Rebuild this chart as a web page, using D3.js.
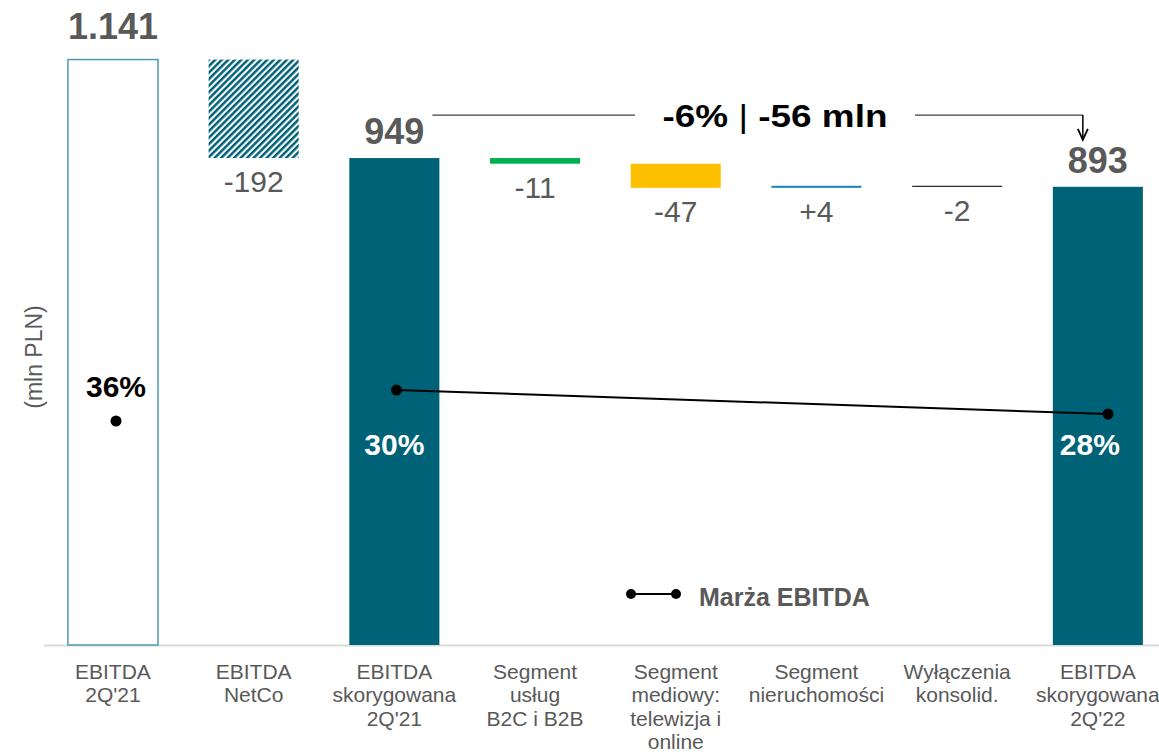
<!DOCTYPE html>
<html>
<head>
<meta charset="utf-8">
<script src="https://cdn.jsdelivr.net/npm/d3@7"></script>
<style>
  body { margin: 0; background: #fff; }
  svg { display: block; font-family: "Liberation Sans", Arial, sans-serif; }
  .cat-label { fill: #595959; font-size: 21px; }
  .total-label { fill: #595959; font-size: 36px; font-weight: bold; }
  .delta-label { fill: #595959; font-size: 30px; }
  .margin-label { font-size: 30px; font-weight: bold; }
</style>
</head>
<body>
<svg id="chart" width="1159" height="752"></svg>
<script>
// categories (one entry per line of the axis label)
const categories = [
  ['EBITDA', "2Q'21"],
  ['EBITDA', 'NetCo'],
  ['EBITDA', 'skorygowana', "2Q'21"],
  ['Segment', 'usług', 'B2C i B2B'],
  ['Segment', 'mediowy:', 'telewizja i', 'online'],
  ['Segment', 'nieruchomości'],
  ['Wyłączenia', 'konsolid.'],
  ['EBITDA', 'skorygowana', "2Q'22"]
];
// mln PLN
const values = [1141, -192, 949, -11, -47, 4, -2, 893];
const isTotal = [true, false, true, false, false, false, false, true];

// EBITDA margin (%)
const marginReported = [{idx: 0, value: 36}];
const marginAdjusted = [{idx: 2, value: 30}, {idx: 7, value: 28}];

const changeText = ['-6%', '|', '-56 mln'];
const legendText = 'Marża EBITDA';
const yAxisTitle = '(mln PLN)';

const svg = d3.select('#chart');
const teal = '#006277';
const fills = ['#ffffff', 'url(#hatch)', teal, '#00B050', '#FFC000', '#1E81C2', '#000000', teal];

const pl = d3.formatLocale({decimal: ',', thousands: '.', grouping: [3], currency: ['', ' zł']});
const fmtTotal = pl.format(',d');
const fmtDelta = v => (v > 0 ? '+' : '') + v;

// hatch pattern for NetCo
const defs = svg.append('defs');
const pat = defs.append('pattern')
  .attr('id', 'hatch')
  .attr('patternUnits', 'userSpaceOnUse')
  .attr('width', 4.6).attr('height', 4.6)
  .attr('patternTransform', 'rotate(45)');
pat.append('rect').attr('width', 4.6).attr('height', 4.6).attr('fill', '#fff');
pat.append('rect').attr('width', 2.5).attr('height', 4.6).attr('fill', teal);

// waterfall steps
let running = 0;
const steps = values.map((v, i) => {
  let start, end;
  if (isTotal[i]) { start = 0; end = v; running = v; }
  else { start = running; end = running + v; running = end; }
  return {i, v, start, end, total: isTotal[i]};
});

const x = d3.scaleBand()
  .domain(d3.range(categories.length))
  .range([42.6, 1168.2])
  .paddingInner(0.36)
  .paddingOuter(0.18);

const y = d3.scaleLinear()
  .domain([0, 1200])
  .range([645, 645 - 1200 * 0.5131]);

// secondary axes for the margin series
const x2 = d3.scalePoint()
  .domain(d3.range(categories.length))
  .range([112, 1108]);
const y2 = d3.scaleLinear().domain([20, 40]).range([510, 270]);
const y2rep = d3.scaleLinear().domain([20, 40]).range([613, 373]);

// baseline
svg.append('line')
  .attr('x1', 44).attr('x2', 1159)
  .attr('y1', y(0) + 0.5).attr('y2', y(0) + 0.5)
  .attr('stroke', '#D9D9D9').attr('stroke-width', 2);

// bars
const bars = svg.append('g').attr('class', 'bars');
bars.selectAll('rect').data(steps).enter().append('rect')
  .attr('x', d => x(d.i))
  .attr('width', x.bandwidth())
  .attr('y', d => y(Math.max(d.start, d.end)))
  .attr('height', d => Math.max(1, Math.abs(y(d.start) - y(d.end))))
  .attr('fill', d => fills[d.i])
  .attr('stroke', d => d.i === 0 ? '#4E9BB0' : 'none')
  .attr('stroke-width', 1.5);

// value labels
svg.append('g').selectAll('text').data(steps).enter().append('text')
  .attr('class', d => d.total ? 'total-label' : 'delta-label')
  .attr('text-anchor', 'middle')
  .attr('x', d => x(d.i) + x.bandwidth() / 2)
  .attr('y', d => d.total
    ? y(d.end) - (d.i === 0 ? 21 : 14)
    : y(Math.min(d.start, d.end)) + 34)
  .text(d => d.total ? fmtTotal(d.v) : fmtDelta(d.v));

// category labels
const catG = svg.append('g');
categories.forEach((lines, i) => {
  const t = catG.append('text')
    .attr('class', 'cat-label')
    .attr('text-anchor', 'middle')
    .attr('x', x(i) + x.bandwidth() / 2)
    .attr('y', 679);
  lines.forEach((ln, k) => {
    t.append('tspan')
      .attr('x', x(i) + x.bandwidth() / 2)
      .attr('dy', k === 0 ? 0 : 23.3)
      .text(ln);
  });
});

// y axis title
svg.append('text')
  .attr('transform', 'translate(42,357) rotate(-90)')
  .attr('text-anchor', 'middle')
  .attr('fill', '#595959')
  .attr('font-size', 23)
  .text(yAxisTitle);

// change annotation
const annY = y(949) - 43;
const arrowX = x(7) + x.bandwidth() / 2 - 15;
svg.append('line')
  .attr('x1', x(2) + x.bandwidth() - 7).attr('x2', 635)
  .attr('y1', annY).attr('y2', annY)
  .attr('stroke', '#404040').attr('stroke-width', 1.2);
svg.append('line')
  .attr('x1', 915).attr('x2', arrowX)
  .attr('y1', annY).attr('y2', annY)
  .attr('stroke', '#404040').attr('stroke-width', 1.2);
svg.append('line')
  .attr('x1', arrowX).attr('x2', arrowX)
  .attr('y1', annY).attr('y2', y(893) - 48)
  .attr('stroke', '#000').attr('stroke-width', 1.5);
svg.append('path')
  .attr('d', `M${arrowX - 5},${y(893) - 58} L${arrowX},${y(893) - 47} L${arrowX + 5},${y(893) - 58}`)
  .attr('fill', 'none').attr('stroke', '#000').attr('stroke-width', 1.8);

const ann = svg.append('text')
  .attr('x', 775).attr('y', annY + 12)
  .attr('text-anchor', 'middle')
  .attr('font-size', 31)
  .attr('fill', '#000');
ann.append('tspan').attr('font-weight', 'bold').text(changeText[0] + ' ');
ann.append('tspan').attr('font-weight', 'normal').text(changeText[1]);
ann.append('tspan').attr('font-weight', 'bold').text(' ' + changeText[2]);
ann.attr('textLength', 225).attr('lengthAdjust', 'spacingAndGlyphs');

// margin line
const line = d3.line()
  .x(d => x2(d.idx))
  .y(d => y2(d.value));
svg.append('path')
  .datum(marginAdjusted)
  .attr('d', line)
  .attr('fill', 'none')
  .attr('stroke', '#000')
  .attr('stroke-width', 2);
svg.append('g').selectAll('circle').data(marginAdjusted).enter().append('circle')
  .attr('cx', d => x2(d.idx)).attr('cy', d => y2(d.value)).attr('r', 5.5)
  .attr('fill', '#000');
svg.append('g').selectAll('text').data(marginAdjusted).enter().append('text')
  .attr('class', 'margin-label')
  .attr('fill', '#fff')
  .attr('text-anchor', 'middle')
  .attr('x', d => x(d.idx) + x.bandwidth() / 2 - (d.idx === 7 ? 8 : 0))
  .attr('y', 455)
  .text(d => d.value + '%');

svg.append('g').selectAll('circle').data(marginReported).enter().append('circle')
  .attr('cx', d => x2(d.idx) + 4).attr('cy', d => y2rep(d.value)).attr('r', 5.5)
  .attr('fill', '#000');
svg.append('g').selectAll('text').data(marginReported).enter().append('text')
  .attr('class', 'margin-label')
  .attr('fill', '#000')
  .attr('text-anchor', 'middle')
  .attr('x', d => x2(d.idx) + 4)
  .attr('y', d => y2rep(d.value) - 24)
  .text(d => d.value + '%');

// legend
const lg = svg.append('g').attr('transform', 'translate(631,594)');
lg.append('line').attr('x1', 0).attr('x2', 45).attr('stroke', '#000').attr('stroke-width', 2);
lg.selectAll('circle').data([0, 45]).enter().append('circle')
  .attr('cx', d => d).attr('cy', 0).attr('r', 5).attr('fill', '#000');
lg.append('text')
  .attr('x', 68).attr('y', 12)
  .attr('fill', '#595959')
  .attr('font-size', 25)
  .attr('font-weight', 'bold')
  .text(legendText);
</script>
</body>
</html>
